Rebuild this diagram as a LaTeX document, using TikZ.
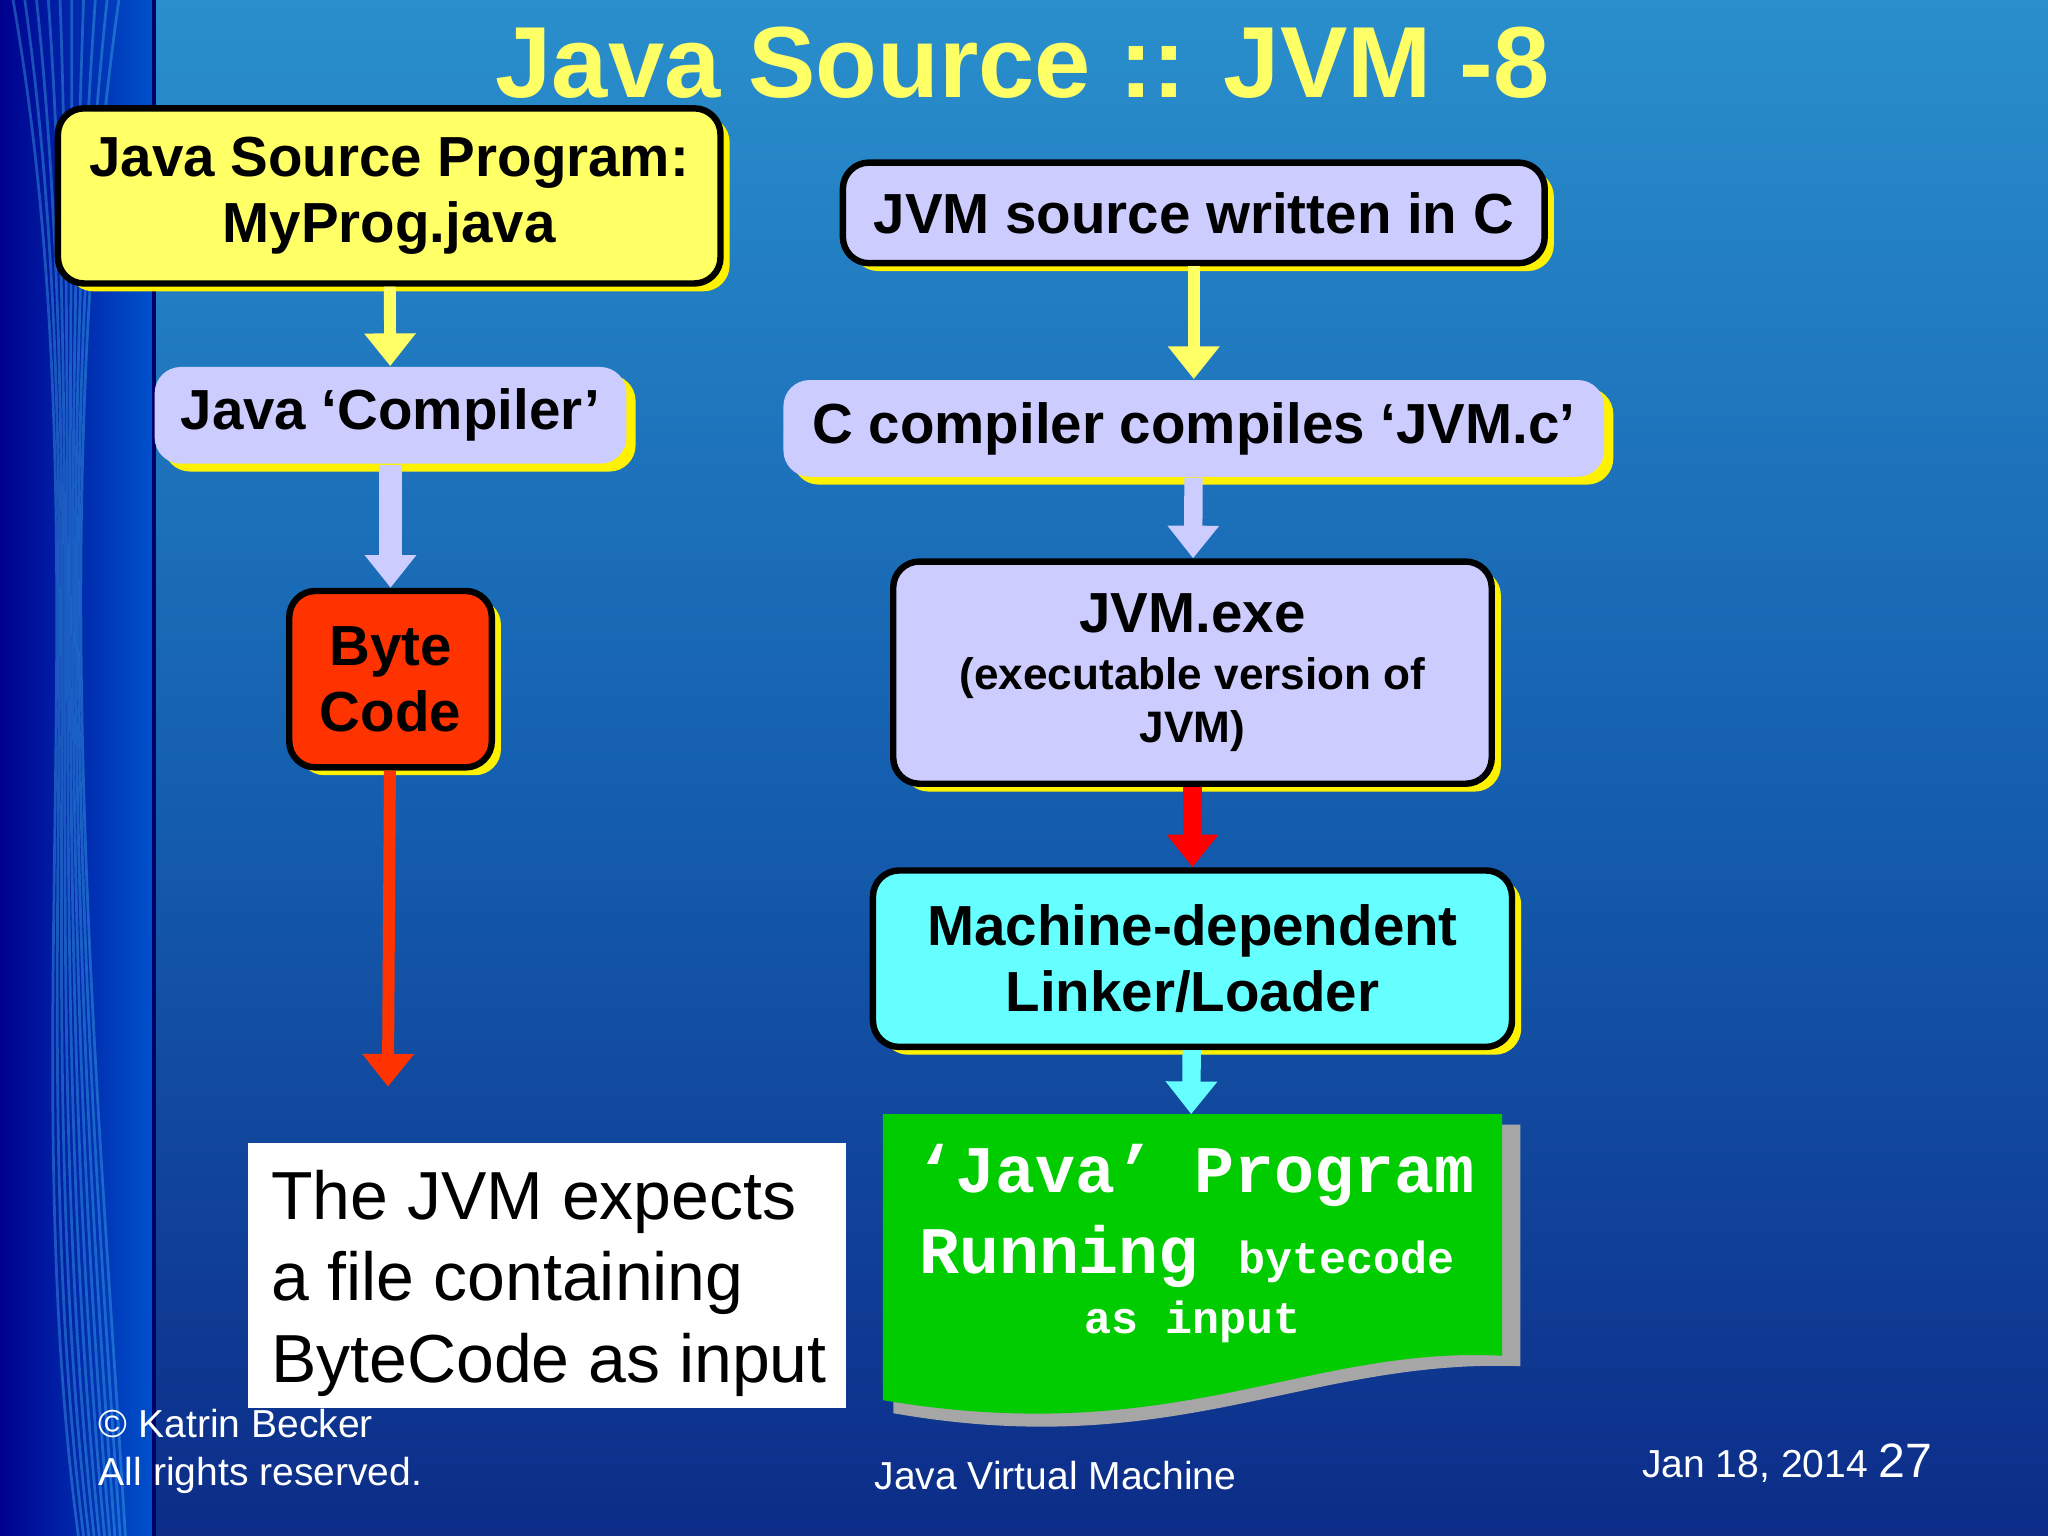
\documentclass[tikz,border=0pt]{standalone}
\usepackage{fontspec}
\setmainfont{Liberation Sans}
\newfontfamily\monof{Liberation Mono}
\usetikzlibrary{shadows,arrows.meta}
\definecolor{lav}{HTML}{CCCCFF}
\definecolor{ylw}{HTML}{FFFF66}
\definecolor{bred}{HTML}{FF3300}
\definecolor{cyn}{HTML}{66FFFF}
\definecolor{grn}{HTML}{00CC00}
\definecolor{bgtop}{HTML}{2A8FCC}
\definecolor{bgmid}{HTML}{1560B0}
\definecolor{bgbot}{HTML}{0C2C88}
\begin{document}
\begin{tikzpicture}[x=0.01cm,y=-0.01cm,
 box/.style={rounded corners=0.2cm, font=\bfseries\fontsize{12.3}{14.5}\selectfont, align=center, inner sep=0pt,
   drop shadow={fill=yellow, opacity=1, shadow xshift=0.07cm, shadow yshift=-0.06cm}},
 bbox/.style={box, draw=black, line width=1.4pt},
 arr/.style={line width=2.6pt, -{Triangle[length=0.25cm,width=0.38cm]}}]
\useasboundingbox (0,0) rectangle (1568,1176);
\shade[top color=bgtop, bottom color=bgbot, middle color=bgmid] (0,0) rectangle (1568,1176);
\shade[left color=blue!55!black, right color=cyan!40!blue!80!black] (0,0) rectangle (118,1176);
\foreach \i in {0,...,9}{\draw[cyan!70!white, opacity=0.35, line width=0.6pt] (10+\i*9,0) .. controls (80-\i*5,400) and (10+\i*7,800) .. (60+\i*4,1176);}
\draw[blue!40!black, line width=1pt] (118,0) -- (118,1176);
\node[font=\bfseries\fontsize{22}{24}\selectfont, text=ylw] (title) at (783,48) {Java Source :: JVM -8};
% boxes
\node[bbox, fill=ylw, minimum width=5.07cm, minimum height=1.34cm] (src) at (298,150) {Java Source Program:\\MyProg.java};
\node[bbox, fill=lav, minimum width=5.37cm, minimum height=0.77cm] (jsrc) at (914,163) {JVM source written in C};
\node[box, fill=lav, minimum width=3.61cm, minimum height=0.74cm] (jc) at (299,318) {Java ‘Compiler’};
\node[box, fill=lav, minimum width=6.28cm, minimum height=0.74cm] (cc) at (914,328) {C compiler compiles ‘JVM.c’};
\node[bbox, fill=bred, minimum width=1.55cm, minimum height=1.35cm] (bc) at (299,520) {Byte\\Code};
\node[bbox, fill=lav, minimum width=4.58cm, minimum height=1.70cm] (exe) at (913,515) {JVM.exe\\[-2pt]\fontsize{9.6}{11.5}\selectfont (executable version of\\[-3pt]\fontsize{9.6}{11.5}\selectfont JVM)};
\node[bbox, fill=cyn, minimum width=4.89cm, minimum height=1.35cm] (ml) at (913,734) {Machine-dependent\\Linker/Loader};
% green doc
\fill[gray!70] (684,861) -- (1164,861) -- (1164,1046) .. controls (1000,1040) and (900,1120) .. (684,1082) -- cycle;
\fill[grn] (676,853) -- (1150,853) -- (1150,1038) .. controls (1000,1030) and (900,1110) .. (676,1072) -- cycle;
\node[font=\monof\bfseries\fontsize{14.5}{16}\selectfont, text=white, anchor=west, inner sep=0pt] (g1) at (700,900) {‘Java’ Program};
\node[font=\monof\bfseries\fontsize{14.5}{16}\selectfont, text=white, anchor=west, inner sep=0pt] (g2) at (703,962) {Running \fontsize{9.8}{11}\selectfont bytecode};
\node[font=\monof\bfseries\fontsize{9.8}{11}\selectfont, text=white, inner sep=0pt] (g3) at (913,1012) {as input};
\coordinate (gin) at (912,853);
% white box
\fill[white] (190,875) rectangle (648,1078);
\node[anchor=north west, align=left, font=\fontsize{14.8}{17.8}\selectfont, inner sep=0pt] (wt) at (207,895) {The JVM expects\\a file containing\\ByteCode as input};
% arrows
\coordinate (bcend) at (297,832);
\draw[arr, ylw] (src) -- (jc);
\draw[arr, lav, line width=5pt] (jc) -- (bc);
\draw[arr, bred] (bc) -- (bcend);
\draw[arr, ylw] (jsrc) -- (cc);
\draw[arr, lav, line width=4pt] (cc) -- (exe);
\draw[arr, red, line width=4pt] (exe) -- (ml);
\draw[arr, cyn, line width=4pt] (ml) -- (gin);
% footer
\node[anchor=west, align=left, text=white, font=\fontsize{8.5}{10.5}\selectfont, inner sep=0pt] (cp) at (75,1111) {© Katrin Becker\\All rights reserved.};
\node[text=white, font=\fontsize{8.5}{10}\selectfont] (ft) at (808,1130) {Java Virtual Machine};
\node[text=white, anchor=east, font=\fontsize{8.5}{10}\selectfont] (dt) at (1492,1120) {Jan 18, 2014 \fontsize{10.5}{12}\selectfont 27};
\end{tikzpicture}
\end{document}
